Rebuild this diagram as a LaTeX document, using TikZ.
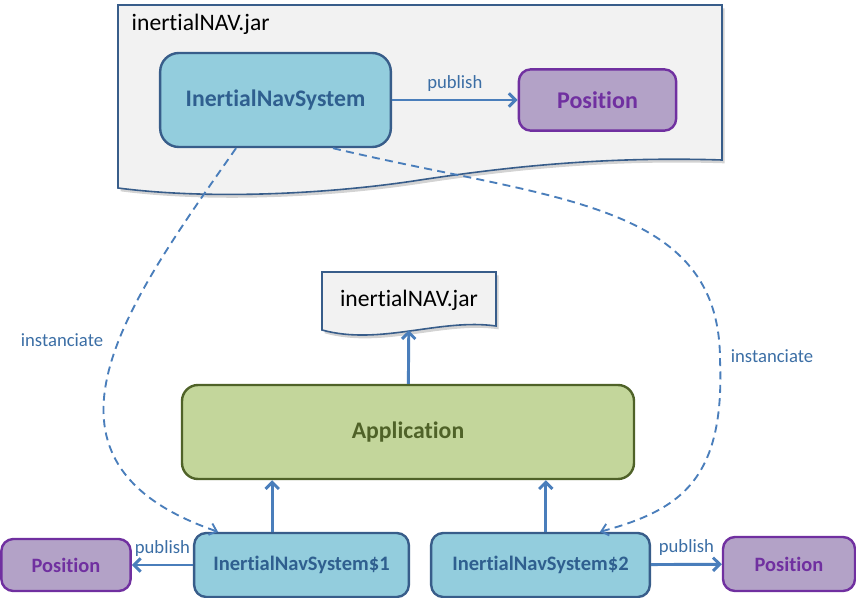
\documentclass[tikz,border=0pt]{standalone}
\usepackage{fontspec}
\setmainfont{Carlito}[Ligatures={NoCommon,NoContextual}]
\usetikzlibrary{arrows.meta,shadows}

\definecolor{navfill}{HTML}{93CDDD}
\definecolor{navline}{HTML}{385D8A}
\definecolor{navtext}{HTML}{2F5F8F}
\definecolor{posfill}{HTML}{B3A2C7}
\definecolor{posline}{HTML}{7030A0}
\definecolor{appfill}{HTML}{C3D69B}
\definecolor{appline}{HTML}{4F6228}
\definecolor{linkblue}{HTML}{4A7EBB}
\definecolor{labelblue}{HTML}{3B6EA5}
\definecolor{docfill}{HTML}{F2F2F2}

\tikzset{
  box/.style={draw,line width=1.8pt,rounded corners=9pt,align=center,inner sep=0pt},
  navbox/.style={box,draw=navline,fill=navfill,text=navtext,font=\bfseries\fontsize{15.4}{17}\selectfont},
  posbox/.style={box,draw=posline,fill=posfill,text=posline,font=\bfseries\fontsize{15.3}{17}\selectfont},
  appbox/.style={box,draw=appline,fill=appfill,text=appline,rounded corners=12pt,font=\bfseries\fontsize{17.8}{20}\selectfont},
  doc/.style={draw=navline,fill=docfill,line width=1.2pt,
    drop shadow={shadow xshift=2pt,shadow yshift=-2.5pt,opacity=0.35}},
  link/.style={draw=linkblue,line width=2.2pt,-{Straight Barb[length=5pt,width=10pt]}},
  inst/.style={draw=linkblue,line width=1.4pt,dash pattern=on 6pt off 4pt,-{Straight Barb[length=5pt,width=9pt]}},
  lbl/.style={text=labelblue,font=\fontsize{14}{16}\selectfont}
}

\begin{document}
\begin{tikzpicture}[x=0.75pt,y=-0.75pt]
  \useasboundingbox (0,0) rectangle (856,598);

  % the jar with its classes
  \path[doc] (118,5) -- (722,5) -- (722,160)
    .. controls (600,156) and (500,168) .. (420,180)
    .. controls (330,194) and (210,200) .. (118,188) -- cycle;
  \node[anchor=west,font=\fontsize{17.7}{20}\selectfont] (jartitle) at (127,24) {inertialNAV.jar};
  \node[navbox,rounded corners=14pt,minimum width=173pt,minimum height=70.5pt,
        font=\bfseries\fontsize{17.8}{20}\selectfont] (nav) at (275.5,100) {InertialNavSystem};
  \node[posbox,minimum width=118pt,minimum height=46pt,
        font=\bfseries\fontsize{18}{20}\selectfont] (pos) at (597.5,100) {Position};
  \draw[link] (nav) -- (pos) node[lbl,midway,above=2pt] {publish};

  % the application side
  \path[doc] (322,272) -- (496,272) -- (496,326)
    .. controls (440,318) and (380,346) .. (322,330) -- cycle;
  \node[minimum width=130.5pt,minimum height=45pt,font=\fontsize{17.7}{20}\selectfont] (jar) at (409,300) {inertialNAV.jar};
  \node[appbox,minimum width=339pt,minimum height=70.5pt] (app) at (408,432) {Application};

  \node[navbox,minimum width=161pt,minimum height=48pt] (nav1) at (301.5,565) {InertialNavSystem\$1};
  \node[navbox,minimum width=164pt,minimum height=48pt] (nav2) at (540.5,565) {InertialNavSystem\$2};
  \node[posbox,minimum width=97pt,minimum height=39pt] (posl) at (66,565) {Position};
  \node[posbox,minimum width=99pt,minimum height=40.5pt] (posr) at (789,564) {Position};

  \draw[link] (app) -- (jar);
  \draw[link] ([xshift=-22pt]nav1.north) -- ([xshift=-22pt]nav1.north |- app.south);
  \draw[link] ([xshift=4pt]nav2.north) -- ([xshift=4pt]nav2.north |- app.south);
  \draw[link] (nav1) -- (posl) node[lbl,midway,above=2pt] {publish};
  \draw[link] (nav2) -- (posr) node[lbl,midway,above=2pt] {publish};

  % instanciate
  \draw[inst] ([xshift=-29.6pt]nav.south) .. controls (130,300) and (10,460) .. ([xshift=-62.6pt]nav1.north);
  \draw[inst] ([xshift=43.1pt]nav.south) .. controls (550,200) and (720,200) .. (720,360)
    .. controls (725,480) and (680,510) .. ([xshift=44.6pt]nav2.north);
  \node[lbl] (inst1) at (62,340) {instanciate};
  \node[lbl] (inst2) at (772,356) {instanciate};
\end{tikzpicture}
\end{document}
